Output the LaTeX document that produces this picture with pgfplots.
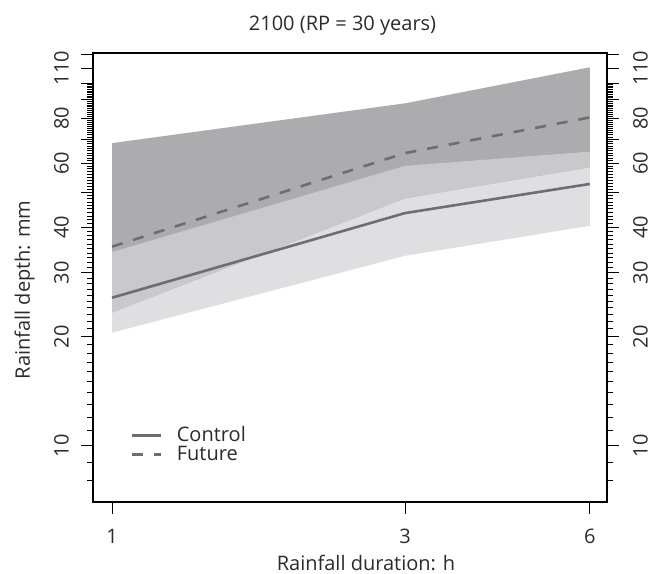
\documentclass[border=0pt]{standalone}
\usepackage{fontspec}
\setmainfont{Open Sans}
\setsansfont{Open Sans}
\usepackage{pgfplots}
\pgfplotsset{compat=1.18}

\definecolor{bandDark}{HTML}{ACACAE}
\definecolor{bandMid}{HTML}{C9C9CB}
\definecolor{bandLight}{HTML}{DFDFE1}
\definecolor{lineGray}{HTML}{6E6E6E}
\definecolor{txt}{HTML}{2B2B2B}

\newcommand{\lbl}{\fontsize{20bp}{24bp}\selectfont}

\begin{document}
\begin{tikzpicture}
\useasboundingbox (-93bp,-72bp) rectangle (568bp,502bp);

\begin{axis}[
    scale only axis, width=514bp, height=449bp,
    at={(0,0)}, anchor=south west,
    xmode=log, ymode=log,
    xmin=0.931, xmax=6.4, ymin=7.0, ymax=121,
    xtick={1,3,6}, xticklabels={1,3,6},
    ytick={10,20,30,40,50,60,70,80,90,100,110,120},
    yticklabels={10,20,30,40,,60,,80,,,110,},
    minor ytick={8,...,100},
    tick align=outside,
    major tick length=12bp, minor tick length=6bp,
    tick style={black, line width=0.9bp},
    axis line style={line width=1.2bp},
    /pgf/number format/assume math mode=true,
    ticklabel style={font=\lbl, text=txt, inner sep=0pt},
    xtick pos=left, ytick pos=left,
    xticklabel style={anchor=north, inner ysep=15bp},
    yticklabel style={rotate=90, anchor=south, inner ysep=12bp},
    legend style={at={(axis description cs:0.0733,0.1677)}, anchor=north west,
      draw=none, fill=none, inner sep=0pt, column sep=14bp,
      font=\lbl, text=txt,
      nodes={inner sep=0pt, text height=14.3bp, text depth=4.7bp}},
    legend cell align=left,
    legend image code/.code={\draw[#1, line width=3bp] (0bp,0.5bp) -- (29bp,0.5bp);},
  ]
  % control band (light), future band (dark), overlap (mid)
  \addplot[fill=bandLight, draw=none, forget plot] coordinates {
    (1,20.5) (3,33.4) (6,40.4) (6,64.7) (3,59.1) (1,34.2) (1,20.5)};
  \addplot[fill=bandDark, draw=none, forget plot] coordinates {
    (1,23.3) (3,48.1) (6,58.6) (6,110.5) (3,87.9) (1,68.3) (1,23.3)};
  \addplot[fill=bandMid, draw=none, forget plot] coordinates {
    (1,23.3) (3,48.1) (6,58.6) (6,64.7) (3,59.1) (1,34.2) (1,23.3)};

  \addplot[lineGray, line width=2.6bp] coordinates {
    (1,25.6) (3,43.8) (6,52.7)};
  \addlegendentry{Control}
  \addplot[lineGray, line width=2.6bp, dash pattern=on 11bp off 11bp] coordinates {
    (1,35.4) (3,64.1) (6,80.4)};
  \addlegendentry{Future}
\end{axis}

\begin{axis}[
    scale only axis, width=514bp, height=449bp,
    at={(0,0)}, anchor=south west,
    xmode=log, ymode=log,
    xmin=0.931, xmax=6.4, ymin=7.0, ymax=121,
    ytick={10,20,30,40,50,60,70,80,90,100,110,120},
    yticklabels={10,20,30,40,,60,,80,,,110,},
    minor ytick={8,...,100},
    tick align=outside,
    major tick length=12bp, minor tick length=6bp,
    tick style={black, line width=0.9bp},
    axis line style={line width=1.2bp},
    /pgf/number format/assume math mode=true,
    ticklabel style={font=\lbl, text=txt, inner sep=0pt},
    hide x axis, axis y line*=right,
    ytick pos=right, yticklabel pos=right,
    yticklabel style={rotate=90, anchor=north, inner ysep=14bp},
  ]
  \addplot[draw=none] coordinates {(1,10)};
\end{axis}

\node[font=\lbl, text=txt, anchor=base] at (249.5bp,471.5bp) {2100 (RP = 30 years)};
\node[font=\lbl, text=txt, anchor=base] at (273bp,-68bp) {Rainfall duration: h};
\node[font=\lbl, text=txt, rotate=90, anchor=base] at (-63bp,212bp) {Rainfall depth: mm};
\end{tikzpicture}
\end{document}
